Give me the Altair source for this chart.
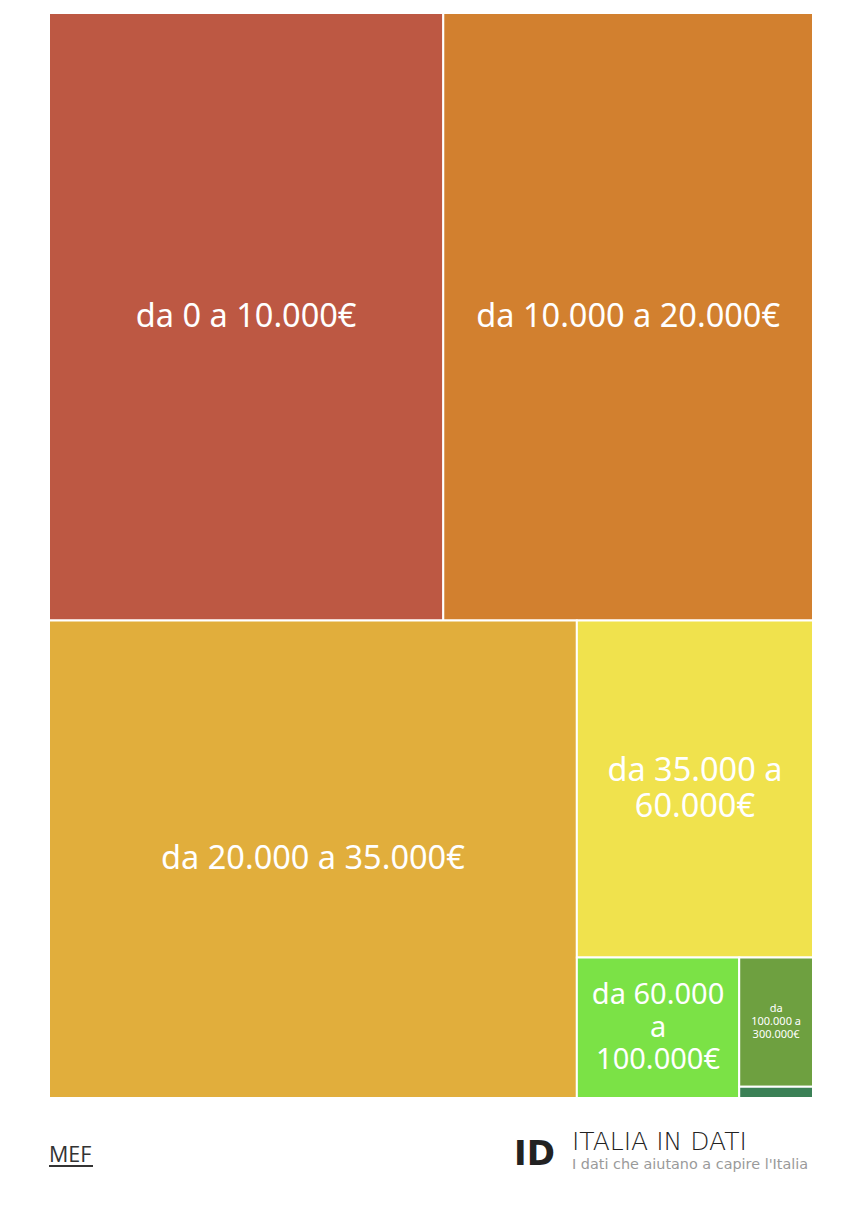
import altair as alt
import pandas as pd

# ---- data ----
categories = [
    "da 0 a 10.000€",
    "da 10.000 a 20.000€",
    "da 20.000 a 35.000€",
    "da 35.000 a 60.000€",
    "da 60.000 a 100.000€",
    "da 100.000 a 300.000€",
    "oltre 300.000€",
]
label_lines = [
    ["da 0 a 10.000€"],
    ["da 10.000 a 20.000€"],
    ["da 20.000 a 35.000€"],
    ["da 35.000 a", "60.000€"],
    ["da 60.000", "a", "100.000€"],
    ["da", "100.000 a", "300.000€"],
    [""],
]
shares = [28.9, 27.1, 30.4, 9.6, 2.75, 1.15, 0.1]
colors = ["#BD5843", "#D2802F", "#E1AE3C", "#F0E24D", "#7BE246", "#6EA040", "#3B8156"]

W, H = 764.0, 1085.0
PHI = (1 + 5 ** 0.5) / 2


def squarify(values, x0, y0, x1, y1, ratio=PHI):
    """d3.treemapSquarify layout (data order kept)."""
    out = [None] * len(values)
    n = len(values)
    total = float(sum(values))
    i0 = i1 = 0
    while i0 < n:
        dx, dy = x1 - x0, y1 - y0
        s = values[i1]
        i1 += 1
        mn = mx = s
        alpha = max(dy / dx, dx / dy) / (total * ratio)
        beta = s * s * alpha
        min_ratio = max(mx / beta, beta / mn)
        while i1 < n:
            v = values[i1]
            s += v
            mn = min(mn, v)
            mx = max(mx, v)
            beta = s * s * alpha
            new_ratio = max(mx / beta, beta / mn)
            if new_ratio > min_ratio:
                s -= v
                break
            min_ratio = new_ratio
            i1 += 1
        idx = list(range(i0, i1))
        if dx < dy:  # dice: horizontal band on top
            band = dy * s / total
            cx = x0
            for k in idx:
                w = dx * values[k] / s
                out[k] = (cx, y0, cx + w, y0 + band)
                cx += w
            y0 += band
        else:  # slice: vertical column on the left
            band = dx * s / total
            cy = y0
            for k in idx:
                h = dy * values[k] / s
                out[k] = (x0, cy, x0 + band, cy + h)
                cy += h
            x0 += band
        total -= s
        i0 = i1
    return out


rects = squarify(shares, 0.0, 0.0, W, H)
df = pd.DataFrame({
    "cat": categories,
    "label": label_lines,
    "share": shares,
    "x0": [r[0] for r in rects],
    "y0": [r[1] for r in rects],
    "x1": [r[2] for r in rects],
    "y1": [r[3] for r in rects],
})
df["cx"] = (df.x0 + df.x1) / 2
df["cy"] = (df.y0 + df.y1) / 2

xs = alt.Scale(domain=[0, W], nice=False, zero=False)
ys = alt.Scale(domain=[0, H], nice=False, zero=False, reverse=True)
color = alt.Color("cat:N", scale=alt.Scale(domain=categories, range=colors), legend=None)

base = alt.Chart(df)
rect = base.mark_rect(stroke="white", strokeWidth=2).encode(
    x=alt.X("x0:Q", scale=xs, axis=None),
    x2="x1:Q",
    y=alt.Y("y0:Q", scale=ys, axis=None),
    y2="y1:Q",
    color=color,
    tooltip=["cat:N", "share:Q"],
)

FONT = "Noto Sans"


def labels(cats, size, line_height, n_lines):
    return base.transform_filter(
        alt.FieldOneOfPredicate(field="cat", oneOf=cats)
    ).mark_text(
        font=FONT, fontSize=size, color="white", align="center",
        baseline="middle", lineHeight=line_height,
        dy=-(n_lines - 1) * line_height / 2,
    ).encode(
        x=alt.X("cx:Q", scale=xs, axis=None),
        y=alt.Y("cy:Q", scale=ys, axis=None),
        text="label",
    )


lab_big = labels(categories[:3], 32.5, 36, 1)
lab_two = labels([categories[3]], 32.5, 36, 2)
lab_mid = labels([categories[4]], 29, 32.5, 3)
lab_small = labels([categories[5]], 11, 13, 3)

# ---- footer ----
src = alt.Chart(pd.DataFrame({"t": ["MEF"]})).mark_text(
    font="Open Sans", fontSize=21.5, color="#333333", align="left", baseline="alphabetic"
).encode(x=alt.value(0), y=alt.value(1149), text="t:N")
underline = alt.Chart(pd.DataFrame({"t": ["MEF"]})).mark_rule(
    color="#333333", strokeWidth=2
).encode(x=alt.value(0), x2=alt.value(44), y=alt.value(1153))

logo = alt.Chart(pd.DataFrame({"t": ["ID"]})).mark_text(
    font="DejaVu Sans", fontSize=34, fontWeight="bold", color="#222222",
    align="left", baseline="alphabetic",
).encode(x=alt.value(465), y=alt.value(1152), text="t:N")
brand = alt.Chart(pd.DataFrame({"t": ["ITALIA IN DATI"]})).mark_text(
    font="DejaVu Sans", fontSize=25, fontWeight=300, color="#222222",
    align="left", baseline="alphabetic",
).encode(x=alt.value(523), y=alt.value(1137), text="t:N")
tag = alt.Chart(pd.DataFrame({"t": ["I dati che aiutano a capire l'Italia"]})).mark_text(
    font="DejaVu Sans", fontSize=14.4, color="#9A9A9A",
    align="left", baseline="alphabetic",
).encode(x=alt.value(523), y=alt.value(1156), text="t:N")

chart = alt.layer(
    rect, lab_big, lab_two, lab_mid, lab_small, src, underline, logo, brand, tag
).properties(
    width=W, height=H,
    padding={"left": 40, "top": 4, "right": 0, "bottom": 0},
).configure_view(stroke=None)

chart.save("out.html", embed_options={"renderer": "svg", "actions": False})
